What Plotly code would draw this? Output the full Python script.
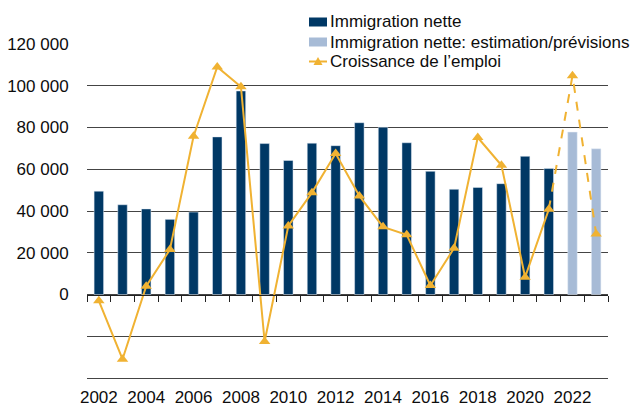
import plotly.graph_objects as go

years = list(range(2002, 2024))
immigration_years = list(range(2002, 2022))
immigration = [49500, 43000, 41000, 36000, 39500, 75500, 97500, 72300, 64200, 72500,
               71300, 82300, 80100, 72700, 59000, 50400, 51300, 53100, 66200, 60400]
estimate_years = [2022, 2023]
estimate = [77800, 69800]
emploi = [-3000, -31000, 4000, 21500, 75800, 109000, 99500, -22500, 32800, 48800,
          67500, 47200, 32400, 28600, 4300, 22200, 75200, 61900, 8300, 40800,
          104800, 29000]
tick_years = [2002, 2004, 2006, 2008, 2010, 2012, 2014, 2016, 2018, 2020, 2022]
y_ticks = [-40000, -20000, 0, 20000, 40000, 60000, 80000, 100000, 120000]
y_labels = ["", "", "0", "20 000", "40 000", "60 000", "80 000", "100 000", "120 000"]
legend_labels = ["Immigration nette", "Immigration nette: estimation/prévisions",
                 "Croissance de l’emploi"]

NAVY = "#003865"
LIGHT = "#a7bbd6"
ORANGE = "#f0b232"
TEXT = "#0d0d0d"
GRID = "#444444"
FONT = "Liberation Sans, Arial, sans-serif"

W, H = 630, 406
L, R, T, B = 87, 22, 44, 28
PW, PH = W - L - R, H - T - B


def px(x):
    return (x - L) / PW


def py(y):
    return (H - B - y) / PH


fig = go.Figure()
fig.add_trace(go.Bar(x=immigration_years, y=immigration, name=legend_labels[0],
                     marker_color=NAVY, width=0.4, showlegend=False))
fig.add_trace(go.Bar(x=estimate_years, y=estimate, name=legend_labels[1],
                     marker_color=LIGHT, width=0.4, showlegend=False))
n_actual = len(immigration_years)
fig.add_trace(go.Scatter(x=years[:n_actual], y=emploi[:n_actual], mode="lines+markers",
                         name=legend_labels[2], xaxis="x2", cliponaxis=False,
                         showlegend=False,
                         line=dict(color=ORANGE, width=2),
                         marker=dict(symbol="triangle-up", size=10, color=ORANGE)))
fig.add_trace(go.Scatter(x=years[n_actual - 1:], y=emploi[n_actual - 1:], mode="lines",
                         showlegend=False, xaxis="x2", cliponaxis=False,
                         line=dict(color=ORANGE, width=2, dash="dash")))
fig.add_trace(go.Scatter(x=years[n_actual:], y=emploi[n_actual:], mode="markers",
                         showlegend=False, xaxis="x2", cliponaxis=False,
                         marker=dict(symbol="triangle-up", size=10, color=ORANGE)))

boundaries = [y - 0.5 for y in years] + [years[-1] + 0.5]
xr = [years[0] - 0.5, years[-1] + 0.5]

# custom legend (layout decoration)
shapes = [
    dict(type="rect", xref="paper", yref="paper", x0=px(285), x1=px(630),
         y0=py(30), y1=py(56), fillcolor="white", line=dict(width=0), layer="above"),
    dict(type="rect", xref="paper", yref="paper", x0=px(309), x1=px(327),
         y0=py(26.5), y1=py(17.5), fillcolor=NAVY, line=dict(width=0)),
    dict(type="rect", xref="paper", yref="paper", x0=px(309), x1=px(327),
         y0=py(46.5), y1=py(37.5), fillcolor=LIGHT, line=dict(width=0)),
    dict(type="line", xref="paper", yref="paper", x0=px(309), x1=px(327),
         y0=py(61.5), y1=py(61.5), line=dict(color=ORANGE, width=2)),
    dict(type="path", xref="paper", yref="paper",
         path=f"M {px(313.5)} {py(65)} L {px(322.5)} {py(65)} L {px(318)} {py(57)} Z",
         fillcolor=ORANGE, line=dict(width=0)),
]
annotations = [
    dict(text=lab, xref="paper", yref="paper", x=px(328), y=py(yc),
         xanchor="left", yanchor="middle", showarrow=False,
         font=dict(size=17, color=TEXT, family=FONT))
    for lab, yc in zip(legend_labels, [21.5, 42, 62])
]

fig.update_layout(
    width=W, height=H,
    margin=dict(l=L, r=R, t=T, b=B, autoexpand=False),
    paper_bgcolor="white", plot_bgcolor="white",
    font=dict(family=FONT, size=17, color=TEXT),
    separators=", ",
    barmode="overlay",
    showlegend=False,
    shapes=shapes,
    annotations=annotations,
    xaxis=dict(range=xr, tickmode="array", tickvals=tick_years,
               ticktext=[str(t) for t in tick_years], showgrid=False,
               zeroline=False, showline=True, linecolor=GRID, linewidth=1,
               ticks="outside", ticklen=4,
               tickcolor="rgba(0,0,0,0)", automargin=False),
    xaxis2=dict(range=xr, overlaying="x", anchor="free", position=0.25,
                tickmode="array", tickvals=boundaries, showticklabels=False,
                ticks="outside", ticklen=6, tickcolor="#222", tickwidth=1,
                showline=True, linecolor="#222", linewidth=1, showgrid=False,
                zeroline=False, automargin=False),
    yaxis=dict(range=[-40000, 120000], tickmode="array", tickvals=y_ticks,
               ticktext=y_labels, showgrid=True, gridcolor=GRID, gridwidth=1,
               zeroline=False, showline=False, ticks="outside", ticklen=14,
               tickcolor="rgba(0,0,0,0)", automargin=False),
)

fig.write_html("out.html", config={"displayModeBar": False},
               post_script="document.body.style.margin='0px';")
